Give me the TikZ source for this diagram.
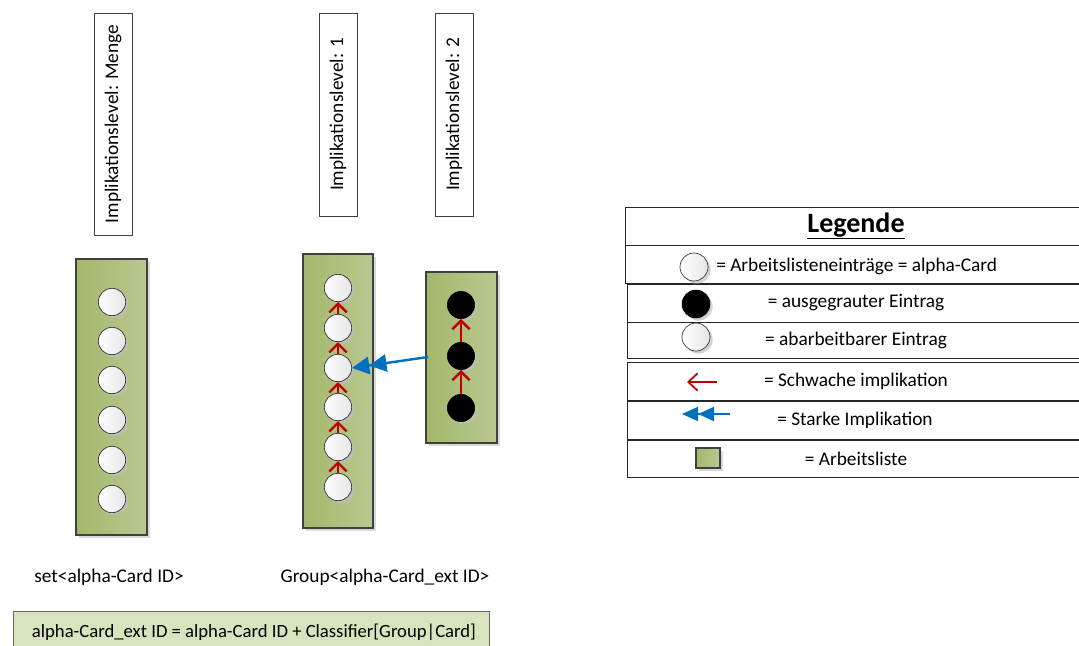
\documentclass[tikz,border=0pt]{standalone}
\usepackage{fontspec}
\setmainfont{Carlito}
\usetikzlibrary{arrows.meta,shadows}

\definecolor{listL}{HTML}{A3B86C}
\definecolor{listR}{HTML}{B9C891}
\definecolor{noteFill}{HTML}{D7E4BD}
\definecolor{weakRed}{HTML}{C00000}
\definecolor{strongBlue}{HTML}{0070C0}
\definecolor{frame}{HTML}{404040}

\tikzset{
  txt/.style={font=\fontsize{14.5}{17}\selectfont, inner sep=0pt},
  levelbox/.style={draw=frame, line width=0.6pt, fill=white, rotate=90,
    inner sep=0pt, font=\fontsize{14.5}{17}\selectfont},
  worklist/.style={draw=frame, line width=0.8pt, left color=listL, right color=listR,
    inner sep=0pt,
    drop shadow={shadow xshift=2.5pt, shadow yshift=-2.5pt, fill=black!15, opacity=1}},
  entry/.style={circle, draw=black!80, line width=0.5pt, minimum size=20.5pt, inner sep=0pt,
    left color=white, right color=black!10,
    drop shadow={shadow xshift=2pt, shadow yshift=-2pt, fill=black!25, opacity=0.7}},
  greyed/.style={circle, draw=black, fill=black, minimum size=20.5pt, inner sep=0pt,
    drop shadow={shadow xshift=2pt, shadow yshift=-2pt, fill=black!25, opacity=0.7}},
  weak/.style={draw=weakRed, line width=1.8pt, -{Straight Barb[length=6.5pt,width=13pt,line width=1.8pt]}},
  weaklegend/.style={draw=weakRed, line width=1.3pt, -{Straight Barb[length=7pt,width=13pt,line width=1.3pt]}},
  strong/.style={draw=strongBlue, line width=1.8pt,
    -{Triangle[length=13pt,width=13pt]Triangle[length=13pt,width=13pt]}},
  stronglegend/.style={draw=strongBlue, line width=1.4pt,
    -{Triangle[length=12pt,width=10.5pt]Triangle[length=12pt,width=10.5pt]}},
  legrow/.style={draw=black!85, line width=0.8pt, fill=white, anchor=north west,
    minimum width=345pt, inner sep=0pt},
}

\begin{document}
\begin{tikzpicture}[x=0.75pt,y=-0.75pt]
\useasboundingbox (0,0) rectangle (1079,646);

% implication level headers
\node[levelbox, minimum width=166.5pt, minimum height=28.5pt] (lvM) at (113,124) {Implikationslevel: Menge};
\node[levelbox, minimum width=152.25pt, minimum height=28.5pt] (lv1) at (338,114.5) {Implikationslevel: 1};
\node[levelbox, minimum width=152.25pt, minimum height=28.5pt] (lv2) at (454,114.5) {Implikationslevel: 2};

% work lists
\node[worklist, minimum width=53.25pt, minimum height=207pt] (wl1) at (111.5,397) {};
\node[worklist, minimum width=52.5pt, minimum height=205.5pt] (wl2) at (338,391) {};
\node[worklist, minimum width=53.25pt, minimum height=128.25pt] (wl3) at (461.5,357.5) {};

% entries of the set
\foreach \i/\y in {1/302,2/341,3/380,4/420,5/460,6/499}
  \node[entry] (a\i) at (112,\y) {};

% entries of level 1
\foreach \i/\y in {1/288,2/328,3/368,4/407,5/447,6/487}
  \node[entry] (b\i) at (338,\y) {};

% greyed entries of level 2
\foreach \i/\y in {1/305,2/356,3/408}
  \node[greyed] (c\i) at (461,\y) {};

% weak implications
\foreach \i/\j in {2/1,3/2,4/3,5/4,6/5}
  \draw[weak] (b\i.north) -- (b\j.south);
\foreach \i/\j in {2/1,3/2}
  \draw[weak] (c\i.north) -- (c\j.south);

% strong implication
\coordinate (s0) at (428,357);
\draw[strong] (s0) -- (b3.east);

% captions
\node[txt] (capS) at (109,577) {set<alpha-Card ID>};
\node[txt] (capG) at (385,577) {Group<alpha-Card\_ext ID>};

% definition of the extended id
\node[draw=black!60, line width=0.7pt, fill=noteFill, anchor=north west,
  minimum width=357pt, minimum height=30pt, inner sep=0pt] (note) at (13,611) {};
\node[font=\fontsize{14}{17}\selectfont, inner sep=0pt] (noteT) at (254,632) {alpha-Card\_ext ID = alpha-Card ID + Classifier[Group|Card]};

% legend
\node[legrow, minimum height=28.5pt] (r0) at (625,207) {};
\node[legrow, minimum height=28.5pt] (r1) at (625,245) {};
\node[legrow, minimum height=28.5pt] (r2) at (627,284) {};
\node[legrow, minimum height=27pt] (r3) at (627,322) {};
\node[legrow, minimum height=28.5pt] (r4) at (627,362) {};
\node[legrow, minimum height=28.5pt] (r5) at (627,401) {};
\node[legrow, minimum height=27.75pt] (r6) at (627,440) {};

\node[font=\fontsize{21}{24}\selectfont\bfseries, inner sep=0pt] (legT) at (856,226) {\underline{Legende}};

\node[entry, minimum size=21pt] (i1) at (694,267) {};
\node[txt, anchor=west] (t1) at (716,266) {= Arbeitslisteneinträge = alpha-Card};

\node[greyed, minimum size=21pt] (i2) at (696,304) {};
\node[txt] (t2) at (856,303) {= ausgegrauter Eintrag};

\node[entry, minimum size=21pt] (i3) at (696,337) {};
\node[txt] (t3) at (856,340) {= abarbeitbarer Eintrag};

\coordinate (i4a) at (717,382);
\coordinate (i4b) at (687,382);
\draw[weaklegend] (i4a) -- (i4b);
\node[txt] (t4) at (856,381) {= Schwache implikation};

\coordinate (i5a) at (730,414);
\coordinate (i5b) at (682,414);
\draw[stronglegend] (i5a) -- (i5b);
\node[txt] (t5) at (855,420) {= Starke Implikation};

\node[worklist, minimum width=18pt, minimum height=15pt,
  drop shadow={shadow xshift=2pt, shadow yshift=-2pt, fill=black!15, opacity=1}] (i6) at (708,458) {};
\node[txt] (t6) at (856,459) {= Arbeitsliste};
\end{tikzpicture}
\end{document}
